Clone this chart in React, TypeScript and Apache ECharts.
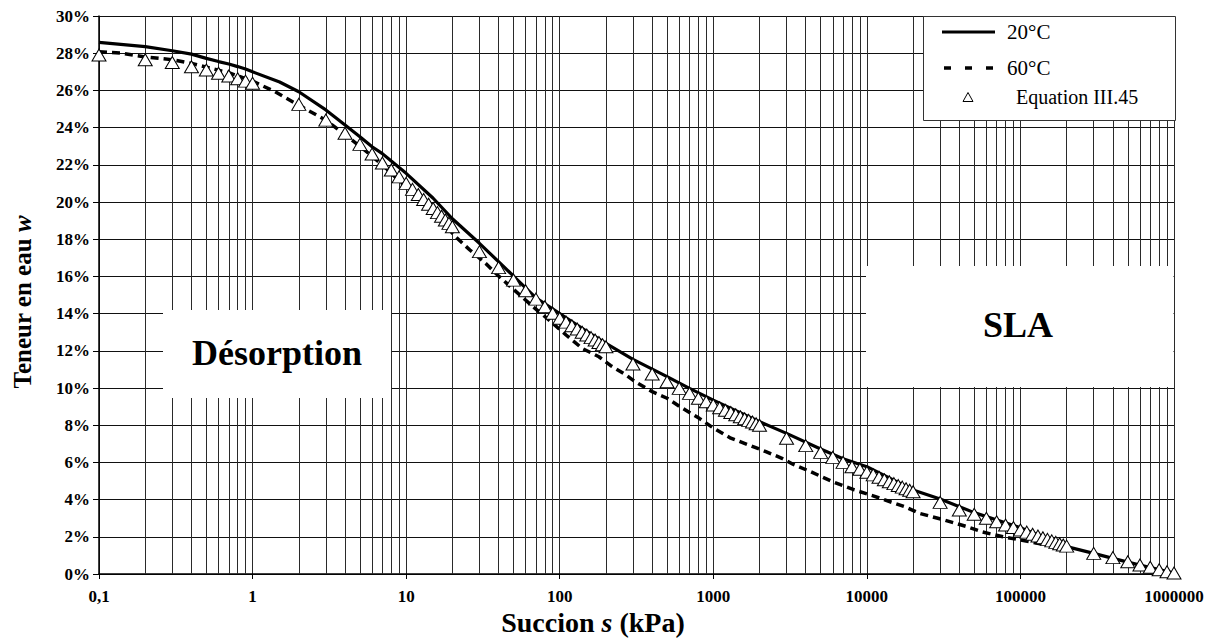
import React, { useEffect, useRef } from 'react';
import * as echarts from 'echarts';

// ---------- axis structure ----------
const xTickLabels = ['0,1', '1', '10', '100', '1000', '10000', '100000', '1000000'];
const minorMultipliers = [2, 3, 4, 5, 6, 7, 8, 9];
const decadeStarts = [0.1, 1, 10, 100, 1000, 10000, 100000];

// ---------- Equation III.45 (triangles) ----------
const sEq = [
  0.1, 0.2, 0.3, 0.4, 0.5, 0.6, 0.7, 0.8, 0.9,
  1, 2, 3, 4, 5, 6, 7, 8, 9,
  10, 11, 12, 13, 14, 15, 16, 17, 18, 19,
  20, 30, 40, 50, 60, 70, 80, 90,
  100, 110, 120, 130, 140, 150, 160, 170, 180, 190,
  200, 300, 400, 500, 600, 700, 800, 900,
  1000, 1100, 1200, 1300, 1400, 1500, 1600, 1700, 1800, 1900,
  2000, 3000, 4000, 5000, 6000, 7000, 8000, 9000,
  10000, 11000, 12000, 13000, 14000, 15000, 16000, 17000, 18000, 19000,
  20000, 30000, 40000, 50000, 60000, 70000, 80000, 90000,
  100000, 110000, 120000, 130000, 140000, 150000, 160000, 170000, 180000, 190000,
  200000, 300000, 400000, 500000, 600000, 700000, 800000, 900000,
  1000000,
];
const wEq = [
  27.9, 27.65, 27.5, 27.27, 27.1, 26.92, 26.77, 26.63, 26.5,
  26.38, 25.25, 24.4, 23.7, 23.1, 22.58, 22.1, 21.72, 21.35,
  21.0, 20.68, 20.4, 20.13, 19.88, 19.65, 19.43, 19.23, 19.03, 18.85,
  18.67, 17.33, 16.47, 15.8, 15.23, 14.78, 14.37, 14.02,
  13.75, 13.54, 13.35, 13.17, 13.0, 12.85, 12.71, 12.58, 12.45, 12.33,
  12.22, 11.29, 10.75, 10.34, 9.98, 9.71, 9.45, 9.26,
  9.09, 8.94, 8.8, 8.68, 8.56, 8.45, 8.35, 8.26, 8.17, 8.08,
  8.0, 7.3, 6.9, 6.54, 6.27, 6.0, 5.77, 5.63,
  5.47, 5.33, 5.2, 5.07, 4.96, 4.86, 4.76, 4.67, 4.58, 4.5,
  4.42, 3.85, 3.44, 3.21, 3.0, 2.81, 2.63, 2.5,
  2.37, 2.25, 2.14, 2.04, 1.95, 1.86, 1.78, 1.7, 1.63, 1.56,
  1.5, 1.11, 0.88, 0.66, 0.48, 0.36, 0.23, 0.12,
  0.05,
];

// ---------- 20°C (solid) ----------
const s20 = [
  0.1, 0.2, 0.3, 0.4, 0.5, 0.6, 0.7, 0.8, 0.9, 1, 1.5, 2, 3, 4, 5, 6, 7, 8, 9,
  10, 15, 20, 30, 50, 70, 100, 150, 200, 300, 500, 700, 1000, 2000, 3000, 5000,
  7000, 10000, 20000, 30000, 50000, 100000, 200000, 300000, 400000, 600000, 1000000,
];
const w20 = [
  28.58, 28.35, 28.13, 27.95, 27.72, 27.55, 27.42, 27.28, 27.15, 27.0, 26.45, 25.93, 24.95, 24.14, 23.51, 22.97, 22.6, 22.2, 21.85,
  21.54, 20.2, 19.1, 17.78, 16.02, 14.85, 14.0, 13.05, 12.4, 11.54, 10.61, 9.98, 9.35, 8.19, 7.56, 6.72,
  6.2, 5.77, 4.52, 4.03, 3.3, 2.49, 1.47, 1.11, 0.84, 0.48, 0.05,
];

// ---------- 60°C (dashed) ----------
const s60 = [
  0.1, 0.14, 0.2, 0.3, 0.4, 0.5, 0.7, 1, 1.4, 2, 3, 5, 7, 10, 15, 21, 26, 33, 40, 52, 67, 85,
  110, 140, 180, 215, 270, 310, 400, 500, 630, 810, 1000, 1300, 1700, 2200, 2800, 3300, 4300,
  6000, 8300, 11000, 18000, 22000, 32000, 45000, 56000, 77000, 100000, 140000, 200000,
];
const w60 = [
  28.08, 28.0, 27.8, 27.65, 27.45, 27.25, 26.95, 26.5, 25.93, 25.2, 24.4, 23.0, 22.0, 20.8, 19.5, 18.13, 17.42, 16.7, 16.02, 15.18, 14.37, 13.66,
  12.85, 12.13, 11.68, 11.2, 10.7, 10.34, 9.8, 9.45, 8.91, 8.37, 7.85, 7.3, 6.94, 6.58, 6.22, 5.9, 5.5,
  4.96, 4.52, 4.2, 3.59, 3.26, 2.9, 2.54, 2.27, 2.0, 1.83, 1.6, 1.38,
];

const FONT = '"Liberation Serif", "Times New Roman", Times, serif';
const GRID_COLOR = '#2a2a2a';

export default function App() {
  const ref = useRef<HTMLDivElement>(null);

  useEffect(() => {
    if (!ref.current) return;
    const chart = echarts.init(ref.current, null, { renderer: 'svg' });

    const minorValues: number[] = [];
    decadeStarts.forEach((d) => minorMultipliers.forEach((m) => minorValues.push(Number((d * m).toPrecision(6)))));

    const option: any = {
      animation: false,
      backgroundColor: '#fff',
      grid: { left: 99, right: 45, top: 16, bottom: 65, containLabel: false },
      xAxis: {
        type: 'log',
        logBase: 10,
        min: 0.1,
        max: 1000000,
        splitNumber: 7,
        axisLine: { show: true, onZero: false, lineStyle: { color: '#000', width: 1.5 } },
        axisTick: { show: true, length: 5, lineStyle: { color: '#000' } },
        axisLabel: {
          color: '#000',
          fontFamily: FONT,
          fontWeight: 'bold',
          fontSize: 17,
          margin: 14,
          formatter: (v: number) => {
            const e = Math.round(Math.log10(v));
            return xTickLabels[e + 1] ?? String(v);
          },
        },
        splitLine: { show: true, lineStyle: { color: GRID_COLOR, width: 1 } },
      },
      yAxis: {
        type: 'value',
        min: 0,
        max: 30,
        interval: 2,
        axisLine: { show: true, onZero: false, lineStyle: { color: '#000', width: 1.5 } },
        axisTick: { show: true, length: 6, lineStyle: { color: '#000' } },
        axisLabel: {
          color: '#000',
          fontFamily: FONT,
          fontWeight: 'bold',
          fontSize: 17,
          margin: 9,
          formatter: (v: number) => `${v}%`,
        },
        splitLine: { show: true, lineStyle: { color: '#111', width: 1 } },
      },
      series: [
        {
          name: 'grid',
          type: 'line',
          data: [],
          silent: true,
          z: 1,
          markLine: {
            silent: true,
            z: 1,
            symbol: ['none', 'none'],
            label: { show: false },
            emphasis: { disabled: true },
            lineStyle: { color: GRID_COLOR, width: 1, type: 'solid' },
            data: minorValues.map((v) => ({ xAxis: v })),
          },
        },
        {
          name: '20°C',
          type: 'line',
          data: s20.map((s, i) => [s, w20[i]]),
          showSymbol: false,
          symbol: 'none',
          z: 3,
          lineStyle: { color: '#000', width: 3.2 },
        },
        {
          name: '60°C',
          type: 'line',
          data: s60.map((s, i) => [s, w60[i]]),
          showSymbol: false,
          symbol: 'none',
          z: 3,
          lineStyle: { color: '#000', width: 3.5, type: [8, 5] },
        },
        {
          name: 'Equation III.45',
          type: 'scatter',
          data: sEq.map((s, i) => [s, wEq[i]]),
          symbol: 'triangle',
          symbolSize: [14, 12],
          z: 4,
          itemStyle: { color: '#fff', borderColor: '#000', borderWidth: 1, opacity: 1 },
        },
      ],
      graphic: [
        // Désorption box
        { type: 'rect', z: 50, shape: { x: 163, y: 310, width: 228, height: 88 }, style: { fill: '#fff' } },
        {
          type: 'text', z: 51, x: 277, y: 353,
          style: { text: 'Désorption', font: `bold 36px ${FONT}`, fill: '#000', align: 'center', verticalAlign: 'middle', textAlign: 'center', textVerticalAlign: 'middle' },
        },
        // SLA box
        { type: 'rect', z: 50, shape: { x: 866, y: 266, width: 307.5, height: 121 }, style: { fill: '#fff' } },
        {
          type: 'text', z: 51, x: 1018, y: 325,
          style: { text: 'SLA', font: `bold 36px ${FONT}`, fill: '#000', align: 'center', verticalAlign: 'middle', textAlign: 'center', textVerticalAlign: 'middle' },
        },
        // Legend
        { type: 'rect', z: 50, shape: { x: 923.5, y: 16.5, width: 252, height: 104 }, style: { fill: '#fff', stroke: '#333', lineWidth: 1 } },
        { type: 'line', z: 51, shape: { x1: 942, y1: 32, x2: 995, y2: 32 }, style: { stroke: '#000', lineWidth: 3 } },
        { type: 'line', z: 51, shape: { x1: 944, y1: 68, x2: 995, y2: 68 }, style: { stroke: '#000', lineWidth: 3.5, lineDash: [7, 14] } },
        { type: 'polygon', z: 51, shape: { points: [[963, 101.5], [973, 101.5], [968, 92.5]] }, style: { fill: '#fff', stroke: '#000', lineWidth: 1 } },
        {
          type: 'text', z: 51, x: 1007, y: 32,
          style: { text: '20°C', font: `21px ${FONT}`, fill: '#000', align: 'left', verticalAlign: 'middle', textAlign: 'left', textVerticalAlign: 'middle' },
        },
        {
          type: 'text', z: 51, x: 1007, y: 68,
          style: { text: '60°C', font: `21px ${FONT}`, fill: '#000', align: 'left', verticalAlign: 'middle', textAlign: 'left', textVerticalAlign: 'middle' },
        },
        {
          type: 'text', z: 51, x: 1016, y: 97,
          style: { text: 'Equation III.45', font: `20px ${FONT}`, fill: '#000', align: 'left', verticalAlign: 'middle', textAlign: 'left', textVerticalAlign: 'middle' },
        },
        // Axis titles
        {
          type: 'text', z: 51, x: 593, y: 622,
          style: {
            text: '{b|Succion }{i|s}{b| (kPa)}',
            align: 'center', verticalAlign: 'middle', textAlign: 'center', textVerticalAlign: 'middle',
            rich: {
              b: { font: `bold 28px ${FONT}`, fill: '#000', color: '#000' },
              i: { font: `italic bold 28px ${FONT}`, fill: '#000', color: '#000' },
            },
          },
        },
        {
          type: 'text', z: 51, x: 22, y: 302, rotation: Math.PI / 2,
          style: {
            text: '{b|Teneur en eau }{i|w}',
            align: 'center', verticalAlign: 'middle', textAlign: 'center', textVerticalAlign: 'middle',
            rich: {
              b: { font: `bold 25px ${FONT}`, fill: '#000', color: '#000' },
              i: { font: `italic bold 25px ${FONT}`, fill: '#000', color: '#000' },
            },
          },
        },
      ],
    };

    chart.setOption(option);
    return () => chart.dispose();
  }, []);

  return <div ref={ref} style={{ position: 'absolute', left: 0, top: 0, width: 1219, height: 639 }} />;
}
